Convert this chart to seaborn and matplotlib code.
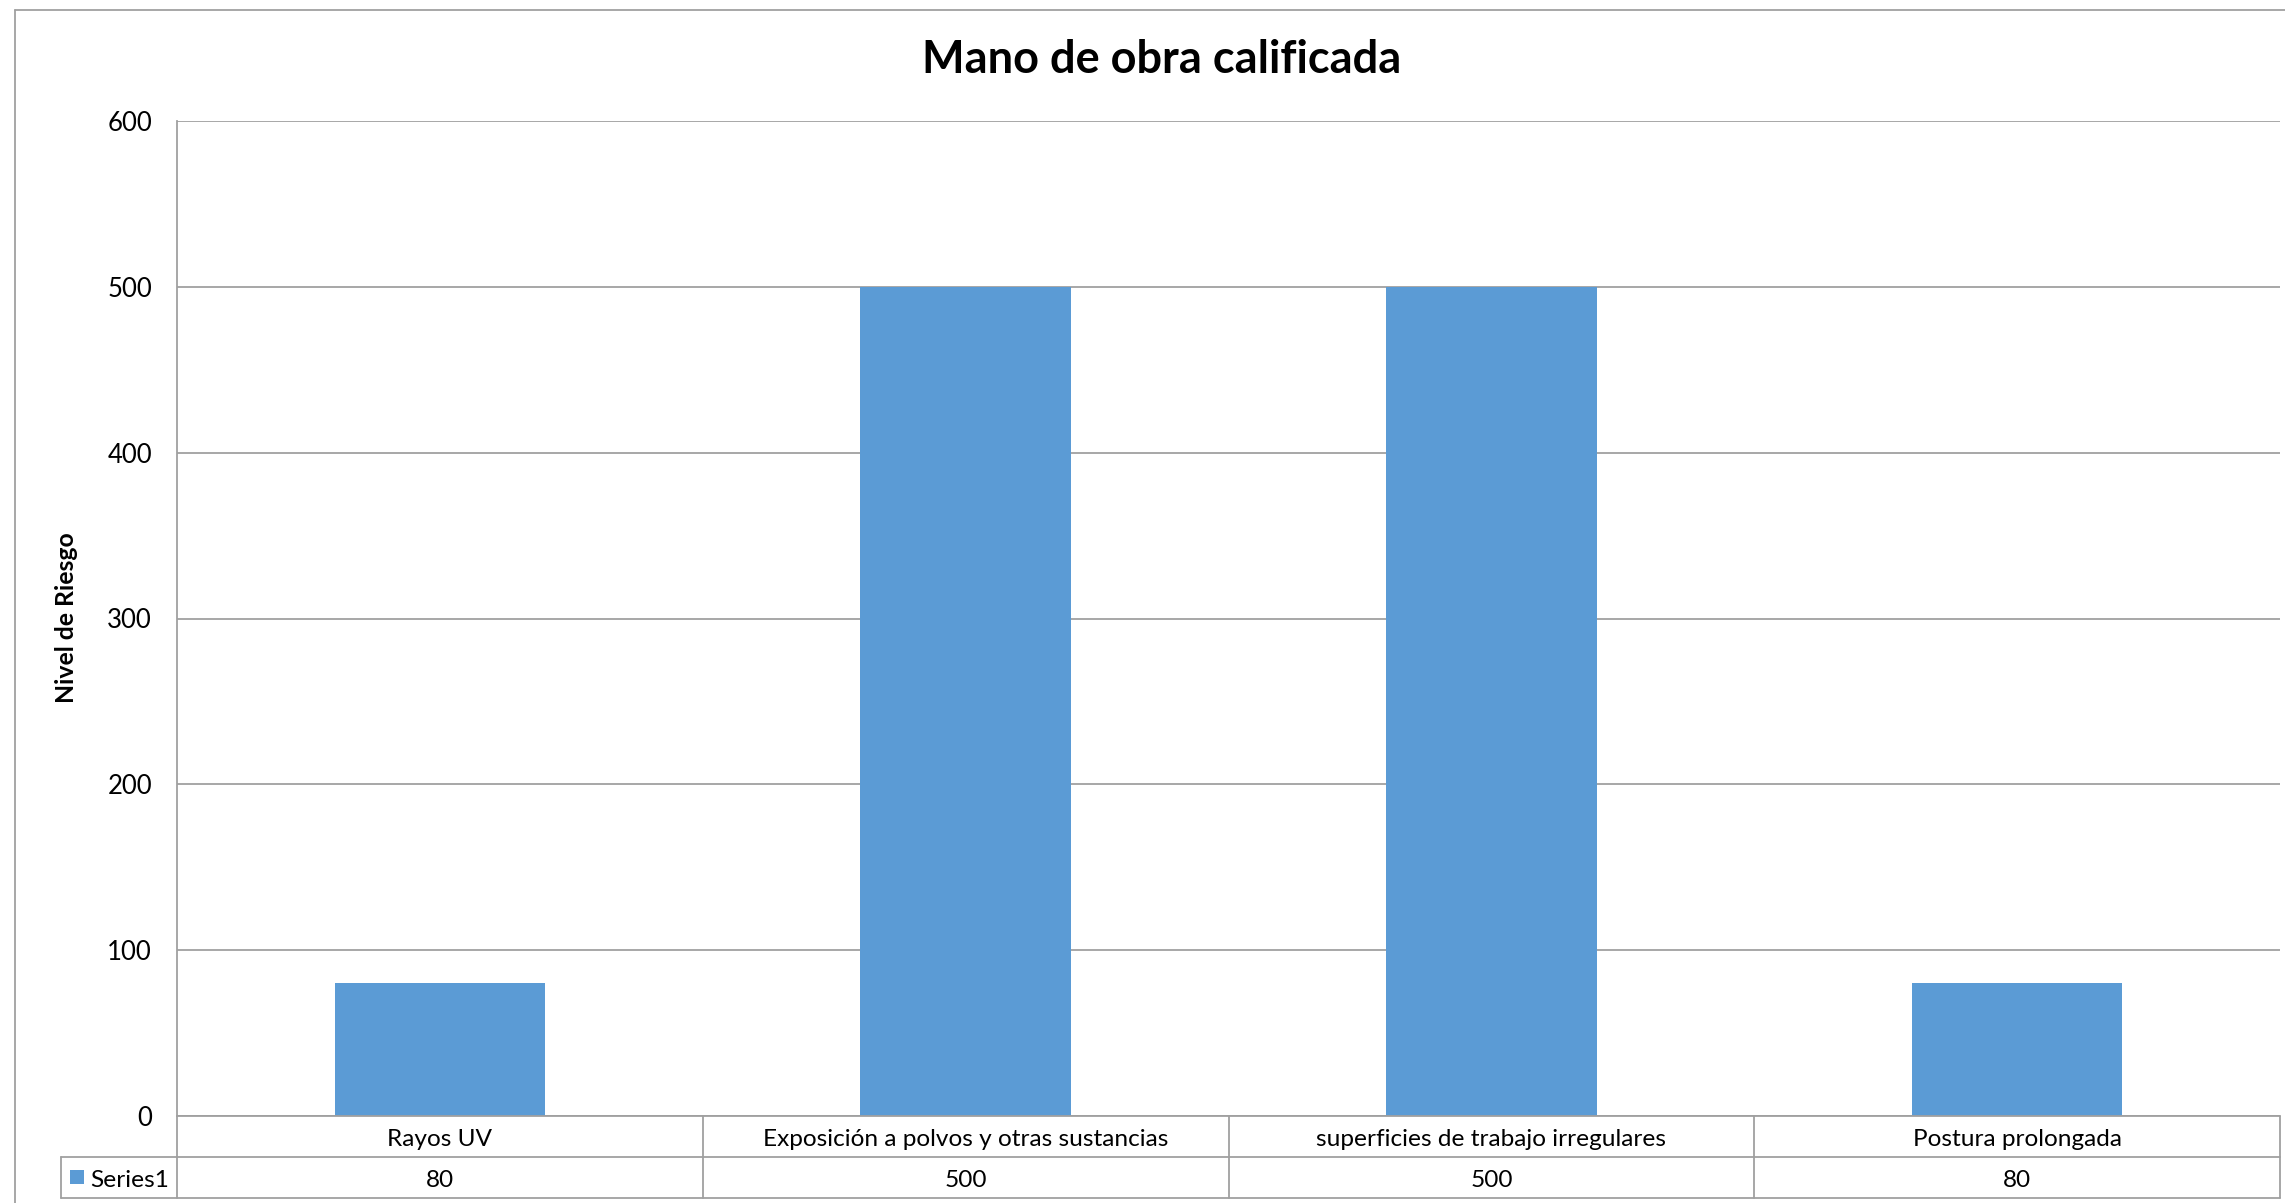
import matplotlib
matplotlib.use("Agg")
import matplotlib.pyplot as plt
import matplotlib.transforms as mtransforms
from matplotlib.lines import Line2D
from matplotlib.patches import Rectangle
import seaborn as sns
import pandas as pd

# Data
categories = ["Rayos UV", "Exposición a polvos y otras sustancias",
              "superficies de trabajo irregulares", "Postura prolongada"]
values = [80, 500, 500, 80]
series_name = "Series1"
y_ticks = [0, 100, 200, 300, 400, 500, 600]

title = "Mano de obra calificada"
y_label = "Nivel de Riesgo"

BAR = "#5B9BD5"
GRID = "#A0A0A0"
FONT = ["Lato", "DejaVu Sans"]

sns.set_theme(style="white")
plt.rcParams["font.family"] = FONT

W, H = 2285, 1203
DPI = 100
fig = plt.figure(figsize=(W / DPI, H / DPI), dpi=DPI)

# plot area in pixel coordinates
px_left, px_right, px_top, px_bottom = 177, 2280, 121, 1116
ax = fig.add_axes([px_left / W, 1 - px_bottom / H,
                   (px_right - px_left) / W, (px_bottom - px_top) / H])

df = pd.DataFrame({"categoria": categories, "valor": values})
sns.barplot(data=df, x="categoria", y="valor", color=BAR, width=0.4,
            saturation=1, linewidth=0, ax=ax, zorder=3)

ax.set_xlim(-0.5, len(categories) - 0.5)
ax.set_ylim(y_ticks[0], y_ticks[-1])
ax.set_yticks(y_ticks)
ax.set_yticklabels([str(t) for t in y_ticks], fontsize=18.5, color="#000000")
ax.tick_params(axis="y", length=0, pad=18)
ax.set_xticks([])
ax.set_xlabel("")
ax.set_ylabel("")
ax.yaxis.grid(True, color=GRID, linewidth=1.3, zorder=0)
for side in ["top", "right", "bottom"]:
    ax.spines[side].set_visible(False)
ax.spines["left"].set_color(GRID)
ax.spines["left"].set_linewidth(1.3)

# titles
fig.text(1162 / W, 1 - 60 / H, title, ha="center", va="center",
         fontsize=32.5, fontweight="bold", color="#000000")
fig.text(66 / W, 1 - 618 / H, y_label, ha="center", va="center",
         rotation=90, fontsize=17.8, fontweight="bold", color="#000000")

# data table below the plot
row1_top, row1_bot, row2_bot = 1116, 1157, 1198
legend_left = 61


def fy(py):
    return 1 - py / H


blend = mtransforms.blended_transform_factory(ax.transData, fig.transFigure)
figpx = fig.transFigure

line_kw = dict(color=GRID, linewidth=1.3)
# horizontal rules
fig.add_artist(Line2D([px_left / W, px_right / W], [fy(row1_top)] * 2,
                      transform=figpx, **line_kw))
for yy in (row1_bot, row2_bot):
    fig.add_artist(Line2D([legend_left / W, px_right / W], [fy(yy)] * 2,
                          transform=figpx, **line_kw))
# vertical rules
fig.add_artist(Line2D([px_left / W] * 2, [fy(row1_top), fy(row2_bot)],
                      transform=figpx, **line_kw))
fig.add_artist(Line2D([legend_left / W] * 2, [fy(row1_bot), fy(row2_bot)],
                      transform=figpx, **line_kw))
for b in [i + 0.5 for i in range(len(categories))]:
    fig.add_artist(Line2D([b, b], [fy(row1_top), fy(row2_bot)],
                          transform=blend, **line_kw))

r1c = fy((row1_top + row1_bot) / 2 + 3)
r2c = fy((row1_bot + row2_bot) / 2 + 3)
for i, (cat, v) in enumerate(zip(categories, values)):
    fig.text(i, r1c, cat, transform=blend, ha="center", va="center",
             fontsize=17.6, color="#000000")
    fig.text(i, r2c, str(v), transform=blend, ha="center", va="center",
             fontsize=17.6, color="#000000")

# legend key inside the table
fig.add_artist(Rectangle((70 / W, fy(1184)), 14 / W, 14 / H,
                         transform=figpx, color=BAR, linewidth=0))
fig.text(90 / W, r2c, series_name, ha="left", va="center",
         fontsize=17.6, color="#000000")

# chart frame
fig.add_artist(Line2D([15.5 / W, 15.5 / W], [0, fy(9.5)], transform=figpx,
                      color=GRID, linewidth=1.3))
fig.add_artist(Line2D([15.5 / W, 1], [fy(9.5), fy(9.5)], transform=figpx,
                      color=GRID, linewidth=1.3))

fig.savefig("out.png", dpi=DPI, facecolor="white")
